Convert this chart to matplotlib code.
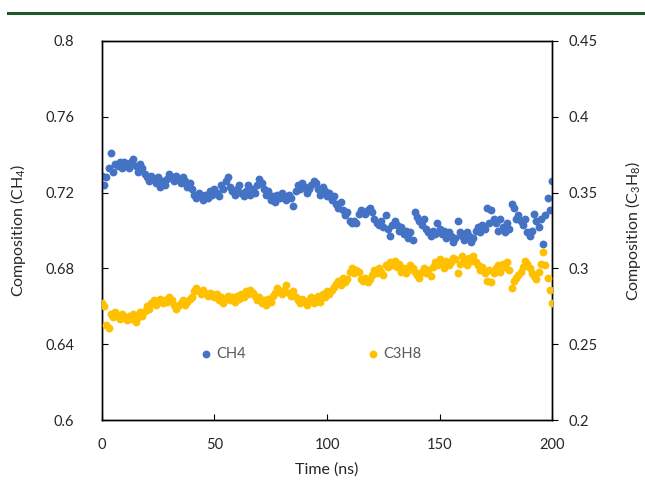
import matplotlib
matplotlib.use('Agg')
import matplotlib.pyplot as plt
from matplotlib.lines import Line2D

plt.rcParams['font.family'] = ['Lato', 'DejaVu Sans']
plt.rcParams['mathtext.fontset'] = 'custom'
plt.rcParams['mathtext.rm'] = 'Lato'
plt.rcParams['mathtext.it'] = 'Lato'

# time in ns, one frame per ns
time = list(range(0, 201))

# CH4 composition (left axis)
ch4 = [0.729, 0.724, 0.728, 0.733, 0.741, 0.731, 0.735, 0.734, 0.736, 0.733,
       0.736, 0.735, 0.733, 0.736, 0.738, 0.734, 0.731, 0.735, 0.733, 0.730,
       0.728, 0.726, 0.729, 0.727, 0.725, 0.728, 0.723, 0.726, 0.724, 0.727,
       0.730, 0.728, 0.726, 0.729, 0.727, 0.725, 0.728, 0.726, 0.723, 0.725,
       0.722, 0.719, 0.717, 0.720, 0.718, 0.716, 0.719, 0.717, 0.721, 0.719,
       0.722, 0.720, 0.718, 0.724, 0.722, 0.726, 0.728, 0.723, 0.721, 0.719,
       0.722, 0.724, 0.720, 0.718, 0.721, 0.724, 0.719, 0.722, 0.720, 0.724,
       0.727, 0.725, 0.722, 0.719, 0.721, 0.716, 0.718, 0.715, 0.719, 0.717,
       0.720, 0.718, 0.716, 0.719, 0.717, 0.713, 0.721, 0.724, 0.722, 0.725,
       0.723, 0.720, 0.722, 0.724, 0.726, 0.725, 0.722, 0.719, 0.723, 0.721,
       0.718, 0.720, 0.716, 0.718, 0.714, 0.712, 0.715, 0.711, 0.708, 0.710,
       0.705, 0.704, 0.705, 0.704, 0.709, 0.711, 0.710, 0.709, 0.711, 0.712,
       0.710, 0.706, 0.704, 0.703, 0.705, 0.702, 0.708, 0.701, 0.697, 0.703,
       0.705, 0.703, 0.700, 0.702, 0.698, 0.700, 0.696, 0.699, 0.695, 0.710,
       0.707, 0.705, 0.703, 0.706, 0.701, 0.699, 0.697, 0.700, 0.698, 0.704,
       0.701, 0.698, 0.700, 0.696, 0.699, 0.697, 0.694, 0.696, 0.705, 0.699,
       0.697, 0.695, 0.699, 0.697, 0.694, 0.696, 0.700, 0.702, 0.699, 0.703,
       0.701, 0.712, 0.704, 0.711, 0.706, 0.704, 0.700, 0.706, 0.702, 0.699,
       0.704, 0.701, 0.714, 0.712, 0.706, 0.708, 0.705, 0.703, 0.706, 0.699,
       0.697, 0.700, 0.709, 0.705, 0.702, 0.706, 0.693, 0.708, 0.717, 0.711,
       0.726]

# C3H8 composition (right axis)
c3h8 = [0.277, 0.275, 0.263, 0.261, 0.270, 0.268, 0.271, 0.269, 0.267, 0.270,
        0.268, 0.266, 0.269, 0.267, 0.270, 0.265, 0.268, 0.271, 0.269, 0.272,
        0.275, 0.273, 0.277, 0.279, 0.276, 0.278, 0.280, 0.277, 0.279, 0.278,
        0.281, 0.279, 0.276, 0.273, 0.275, 0.277, 0.279, 0.276, 0.278, 0.280,
        0.281, 0.285, 0.287, 0.285, 0.283, 0.286, 0.284, 0.282, 0.284, 0.283,
        0.281, 0.283, 0.279, 0.281, 0.277, 0.280, 0.282, 0.279, 0.281, 0.278,
        0.282, 0.280, 0.283, 0.281, 0.285, 0.283, 0.286, 0.284, 0.282, 0.279,
        0.281, 0.277, 0.279, 0.276, 0.280, 0.278, 0.282, 0.284, 0.287, 0.285,
        0.283, 0.286, 0.289, 0.284, 0.282, 0.285, 0.281, 0.279, 0.277, 0.280,
        0.278, 0.276, 0.279, 0.281, 0.277, 0.280, 0.282, 0.278, 0.283, 0.281,
        0.285, 0.283, 0.286, 0.288, 0.290, 0.292, 0.289, 0.294, 0.291, 0.293,
        0.298, 0.300, 0.297, 0.299, 0.298, 0.293, 0.292, 0.294, 0.291, 0.293,
        0.296, 0.299, 0.297, 0.300, 0.298, 0.296, 0.302, 0.301, 0.304, 0.302,
        0.305, 0.301, 0.303, 0.298, 0.300, 0.297, 0.299, 0.302, 0.300, 0.298,
        0.296, 0.294, 0.298, 0.300, 0.297, 0.299, 0.295, 0.301, 0.304, 0.302,
        0.306, 0.303, 0.300, 0.305, 0.302, 0.304, 0.307, 0.306, 0.297, 0.303,
        0.308, 0.305, 0.302, 0.307, 0.305, 0.308, 0.304, 0.302, 0.299, 0.301,
        0.297, 0.292, 0.299, 0.291, 0.297, 0.300, 0.302, 0.298, 0.303, 0.301,
        0.304, 0.299, 0.287, 0.292, 0.294, 0.296, 0.298, 0.301, 0.305, 0.303,
        0.300, 0.297, 0.295, 0.293, 0.298, 0.303, 0.311, 0.302, 0.294, 0.286,
        0.277]

x_ticks = [0, 50, 100, 150, 200]
left_ticks = [0.6, 0.64, 0.68, 0.72, 0.76, 0.8]
left_labels = ['0.6', '0.64', '0.68', '0.72', '0.76', '0.8']
right_ticks = [0.2, 0.25, 0.3, 0.35, 0.4, 0.45]
right_labels = ['0.2', '0.25', '0.3', '0.35', '0.4', '0.45']

blue = '#4472C4'
gold = '#FFC000'
txt = '#262626'

fig = plt.figure(figsize=(6.45, 4.88), dpi=100)
ax = fig.add_axes([0.158, 0.139, 0.698, 0.777])
ax2 = ax.twinx()

ax.scatter(time, ch4, s=32, color=blue, label='CH4', zorder=3, linewidths=0)
ax2.scatter(time, c3h8, s=32, color=gold, label='C3H8', zorder=3, linewidths=0)

ax.set_xlim(0, 200)
ax.set_ylim(0.6, 0.8)
ax2.set_ylim(0.2, 0.45)
ax.set_xticks(x_ticks)
ax.set_yticks(left_ticks)
ax.set_yticklabels(left_labels)
ax2.set_yticks(right_ticks)
ax2.set_yticklabels(right_labels)

for a in (ax, ax2):
    for sp in a.spines.values():
        sp.set_color('black')
        sp.set_linewidth(1.0)

ax.tick_params(axis='x', direction='in', length=4, width=0.8, pad=13, labelsize=10.5, labelcolor=txt)
ax.tick_params(axis='y', direction='in', length=4, width=0.8, pad=20, labelsize=10.5, labelcolor=txt)
ax2.tick_params(axis='y', direction='out', length=4, width=0.8, pad=8, labelsize=10.5, labelcolor=txt)

ax.set_xlabel('Time (ns)', fontsize=11.5, color=txt, labelpad=7)
ax.set_ylabel('Composition (CH$_4$)', fontsize=11.5, color=txt, labelpad=12)
ax2.set_ylabel('Composition (C$_3$H$_8$)', fontsize=11.5, color=txt, labelpad=18)

h1, l1 = ax.get_legend_handles_labels()
h2, l2 = ax2.get_legend_handles_labels()
leg = ax2.legend(h1 + h2, l1 + l2, loc='center', bbox_to_anchor=(0.465, 0.174),
                 ncol=2, frameon=False, fontsize=10.5, handlelength=0.6,
                 handletextpad=0.4, columnspacing=8.4, labelcolor='#595959')

# green rule at the top of the page
fig.add_artist(Line2D([0.012, 1.0], [0.974, 0.974], transform=fig.transFigure,
                      color='#1d5a2a', linewidth=2.2))

fig.savefig('out.png', dpi=100)
